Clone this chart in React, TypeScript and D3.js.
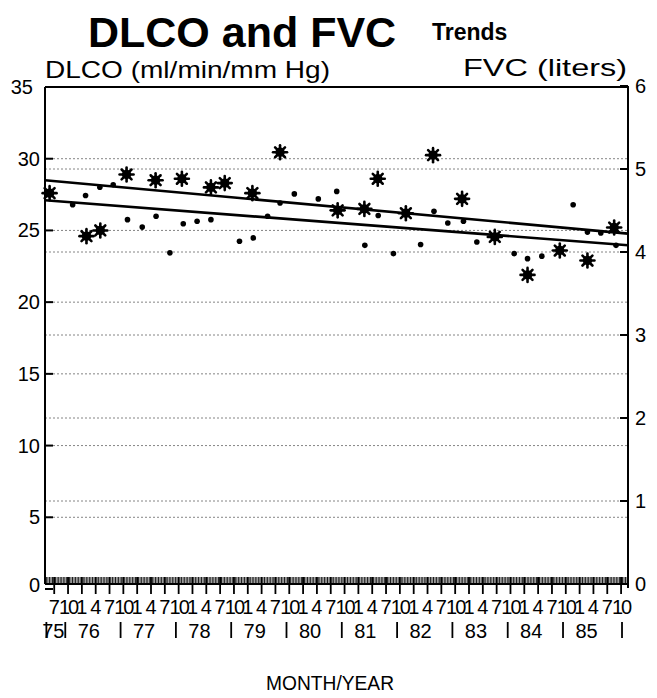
import React from 'react';
import * as d3 from 'd3';

// months counted from Jan 1 1975 (6 = Jul 75, 129 = Oct 85)
const dlcoMonths = [5, 13, 16, 21.7, 28, 33.7, 40, 43, 49, 55, 67.5, 73.3, 76.2, 82.3, 88.2, 94.5, 101.6, 108.7, 115.7, 121.7, 127.5];
const dlcoValues = [27.6, 24.6, 25.0, 28.9, 28.5, 28.6, 28.0, 28.3, 27.6, 30.45, 26.4, 26.5, 28.6, 26.2, 30.25, 27.2, 24.55, 21.9, 23.6, 22.9, 25.2];
const fvcMonths = [10, 12.8, 15.9, 18.8, 21.9, 25.1, 28.1, 31.1, 34, 37, 40, 46.2, 49.2, 52.3, 55, 58.1, 63.3, 67.3, 73.4, 76.3, 79.6, 85.5, 88.4, 91.4, 94.8, 97.7, 105.8, 108.7, 111.8, 118.6, 121.7, 124.6, 127.9];
const fvcValues = [4.57, 4.68, 4.78, 4.81, 4.39, 4.30, 4.43, 3.99, 4.34, 4.37, 4.39, 4.13, 4.17, 4.43, 4.59, 4.70, 4.64, 4.73, 4.08, 4.44, 3.98, 4.09, 4.49, 4.35, 4.37, 4.12, 3.98, 3.92, 3.95, 4.57, 4.24, 4.23, 4.08];
const trendMonths = [4, 130.5];
const dlcoTrend = [28.5, 24.78];
const fvcTrend = [4.623, 4.081];
const leftTicks = [0, 5, 10, 15, 20, 25, 30, 35];
const rightTicks = [0, 1, 2, 3, 4, 5, 6];
const years = ['75', '76', '77', '78', '79', '80', '81', '82', '83', '84', '85'];

const FONT = "'Liberation Sans', Arial, Helvetica, sans-serif";

export default function App() {
  const x = d3.scaleLinear().domain([4, 130.5]).range([45, 628]);
  const yL = d3.scaleLinear().domain([0, 35]).range([589, 87]);
  const yR = d3.scaleLinear().domain([0, 6]).range([584, 86]);
  const left = x(4), right = x(130.5);
  const top = 87, bottom = yR(0);

  const quarters = d3.range(6, 130, 3);
  const comb = d3.range(4.3, 130.4, 1 / 3);
  const jans = d3.range(12, 121, 12);

  const dlcoLine = d3.line<number>().x((m) => x(m)).y((_, i) => yL(dlcoTrend[i]));
  const fvcLine = d3.line<number>().x((m) => x(m)).y((_, i) => yR(fvcTrend[i]));

  const star = (cx: number, cy: number, k: number) => (
    <g key={k} stroke="#000" strokeWidth={2.6} strokeLinecap="round">
      {[0, 45, 90, 135].map((a) => {
        const r = 7;
        const dx = Math.cos((a * Math.PI) / 180) * r;
        const dy = Math.sin((a * Math.PI) / 180) * r;
        return <line key={a} x1={cx - dx} y1={cy - dy} x2={cx + dx} y2={cy + dy} />;
      })}
      <circle cx={cx} cy={cy} r={3.4} fill="#000" />
    </g>
  );

  const seps = [4.3, ...jans.map((j) => j - 3.6), 129.2];

  return (
    <svg width={657} height={698} style={{ position: 'absolute', left: 0, top: 0, background: '#fff' }} fontFamily={FONT}>
      <rect x={0} y={0} width={657} height={698} fill="#fff" />
      {/* titles */}
      <text x={88} y={47} fontSize={43} fontWeight="bold">DLCO and FVC</text>
      <text x={432} y={40} fontSize={23} fontWeight="bold">Trends</text>
      <text x={45} y={78} fontSize={24} textLength={285} lengthAdjust="spacingAndGlyphs">DLCO (ml/min/mm Hg)</text>
      <text x={463} y={76} fontSize={24} textLength={164} lengthAdjust="spacingAndGlyphs">FVC (liters)</text>

      {/* gridlines */}
      {leftTicks.filter((t) => t > 0 && t < 35).map((t) => (
        <line key={'gl' + t} x1={left} x2={right} y1={yL(t)} y2={yL(t)} stroke="#444" strokeWidth={1} strokeDasharray="2,2" opacity={0.65} />
      ))}
      {rightTicks.filter((t) => t > 0 && t < 6).map((t) => (
        <line key={'gr' + t} x1={left} x2={right} y1={yR(t)} y2={yR(t)} stroke="#444" strokeWidth={1} strokeDasharray="2,2" opacity={0.65} />
      ))}

      {/* frame */}
      <g stroke="#000" strokeWidth={2} fill="none">
        <line x1={left} x2={right} y1={top} y2={top} />
        <line x1={left} x2={left} y1={top} y2={bottom} />
        <line x1={right} x2={right} y1={yR(6)} y2={bottom + 4} />
        <line x1={left} x2={right} y1={bottom} y2={bottom} />
      </g>

      {/* y ticks */}
      {leftTicks.map((t) => (
        <g key={'lt' + t}>
          <line x1={left} x2={left + 8} y1={yL(t)} y2={yL(t)} stroke="#000" strokeWidth={2} />
          <text x={t === 35 ? 33 : 40} y={t === 0 ? bottom + 1 : yL(t)} dy="0.35em" fontSize={20} textAnchor="end">{t}</text>
        </g>
      ))}
      {rightTicks.map((t) => (
        <g key={'rt' + t}>
          <line x1={right - 8} x2={right} y1={yR(t)} y2={yR(t)} stroke="#000" strokeWidth={2} />
          <text x={635} y={yR(t)} dy="0.35em" fontSize={20}>{t}</text>
        </g>
      ))}

      {/* x comb and quarter ticks */}
      {comb.map((m, i) => (
        <line key={'c' + i} x1={x(m)} x2={x(m)} y1={bottom - 7} y2={bottom + 1} stroke="#000" strokeWidth={0.9} />
      ))}
      {quarters.map((m) => (
        <g key={'q' + m}>
          <line x1={x(m)} x2={x(m)} y1={bottom - 7} y2={bottom + 10} stroke="#000" strokeWidth={1.8} />
          <text x={x(m)} y={614} fontSize={20} textAnchor="middle" letterSpacing={(m % 12) === 9 ? -2 : 0}>
            {(m % 12) + 1}
          </text>
        </g>
      ))}

      {/* year row */}
      {seps.map((m) => (
        <line key={'s' + m} x1={x(m)} x2={x(m)} y1={622} y2={638} stroke="#000" strokeWidth={1.8} />
      ))}
      {years.map((yStr, i) => (
        <text key={yStr} x={i === 0 ? x(5.8) : x(i * 12 + 1.5)} y={638} fontSize={20} textAnchor="middle">{yStr}</text>
      ))}
      <text x={330} y={690} fontSize={21} textAnchor="middle" textLength={128} lengthAdjust="spacingAndGlyphs">MONTH/YEAR</text>

      {/* trend lines */}
      <path d={dlcoLine(trendMonths) || ''} stroke="#000" strokeWidth={2.6} fill="none" />
      <path d={fvcLine(trendMonths) || ''} stroke="#000" strokeWidth={2.6} fill="none" />

      {/* data */}
      {fvcMonths.map((m, i) => (
        <circle key={'f' + i} cx={x(m)} cy={yR(fvcValues[i])} r={2.8} fill="#000" />
      ))}
      {dlcoMonths.map((m, i) => star(x(m), yL(dlcoValues[i]), i))}
    </svg>
  );
}
